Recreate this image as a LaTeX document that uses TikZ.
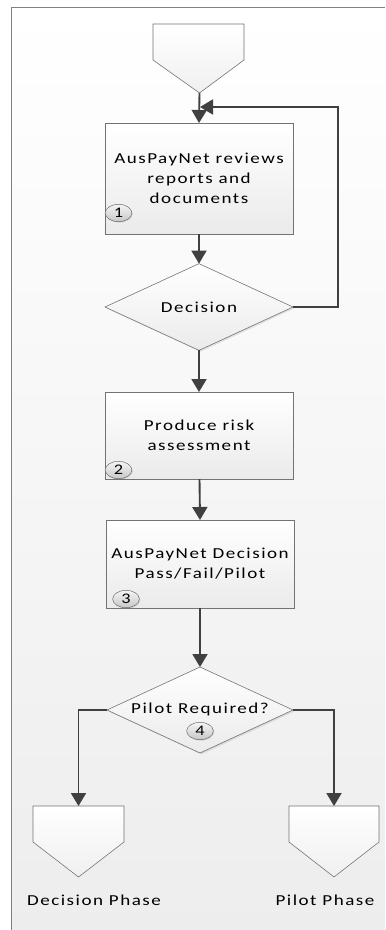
\documentclass[tikz,border=0pt]{standalone}
\usepackage{fontspec}
\setmainfont{Carlito}[FakeStretch=1.25, LetterSpace=10]
\usetikzlibrary{shapes.geometric, arrows.meta, shadows}

\begin{document}
\begin{tikzpicture}[x=0.03cm, y=-0.03cm,
    flow/.style={draw=black!55, line width=0.5pt, top color=white, bottom color=black!8,
        drop shadow={shadow xshift=1.2pt, shadow yshift=-1.2pt, opacity=0.2}},
    stepbox/.style={flow, rectangle, minimum width=5.64cm, outer sep=0pt,
        align=center, font=\fontsize{13}{17}\selectfont},
    choice/.style={flow, diamond, minimum width=5.64cm, minimum height=2.58cm,
        outer sep=0pt, inner sep=0pt, font=\fontsize{13}{17}\selectfont},
    num/.style={ellipse, draw=black!60, top color=black!4, bottom color=black!22,
        minimum width=0.8cm, minimum height=0.52cm, inner sep=0pt,
        drop shadow={shadow xshift=0.8pt, shadow yshift=-0.8pt, opacity=0.25},
        font=\fontsize{12.5}{12.5}\selectfont},
    page/.style={draw=black!55, line width=0.5pt, top color=white, bottom color=black!6},
    link/.style={draw=black!75, line width=1.6pt, -{Triangle[length=0.39cm, width=0.45cm]}}]

    % Background and frame
    \useasboundingbox (0, 0) rectangle (385, 930);
    \fill[white] (0, 0) rectangle (385, 930);
    \shade[top color=white, bottom color=black!7] (11, 7) rectangle (385, 930);
    \draw[black!50, line width=0.7pt] (11, 930) -- (11, 7) -- (385, 7);

    % Off-page connectors
    \draw[page] (153, 24) -- (244, 24) -- (244, 60) -- (199.5, 93) -- (153, 60) -- cycle;
    \draw[page] (33, 806) -- (124, 806) -- (124, 842) -- (78.5, 877) -- (33, 842) -- cycle;
    \draw[page] (289, 806) -- (379, 806) -- (379, 842) -- (334, 877) -- (289, 842) -- cycle;
    \coordinate (start) at (199.5, 93);
    \coordinate (loopin) at (200, 107);
    \coordinate (decend) at (78.5, 806);
    \coordinate (pilotend) at (334, 806);

    % Steps
    \node[stepbox, minimum height=3.33cm] (review) at (199, 178.5)
        {AusPayNet reviews\\reports and\\documents};
    \node[choice] (decide) at (199, 307) {Decision};
    \node[stepbox, minimum height=2.61cm] (risk) at (199, 435.5)
        {Produce risk\\assessment};
    \node[stepbox, minimum height=2.64cm] (verdict) at (200, 564)
        {AusPayNet Decision\\Pass/Fail/Pilot};
    \node[choice, minimum width=5.58cm] (pilot) at (200, 710) {};
    \node[font=\fontsize{13}{17}\selectfont] (pilottext) at (200, 709) {Pilot Required?};

    % Step numbers
    \node[num] (n1) at (118.5, 213) {1};
    \node[num] (n2) at (118.5, 470) {2};
    \node[num] (n3) at (126, 599) {3};
    \node[num] (n4) at (200, 731) {4};

    % Flow
    \draw[link] (start) -- (review.north);
    \draw[link] (review) -- (decide.north);
    \draw[link] (decide.east) -- ++(45, 0) |- (loopin);
    \draw[link] (decide) -- (risk.north);
    \draw[link] (risk) -- (verdict.north);
    \draw[link] (verdict) -- (pilot.north);
    \draw[link] (pilot.west) -| (decend);
    \draw[link] (pilot.east) -| (pilotend);

    % End labels
    \node[font=\fontsize{13}{17}\selectfont] (declabel) at (94, 900) {Decision Phase};
    \node[font=\fontsize{13}{17}\selectfont] (pilotlabel) at (325, 900) {Pilot Phase};
\end{tikzpicture}
\end{document}
